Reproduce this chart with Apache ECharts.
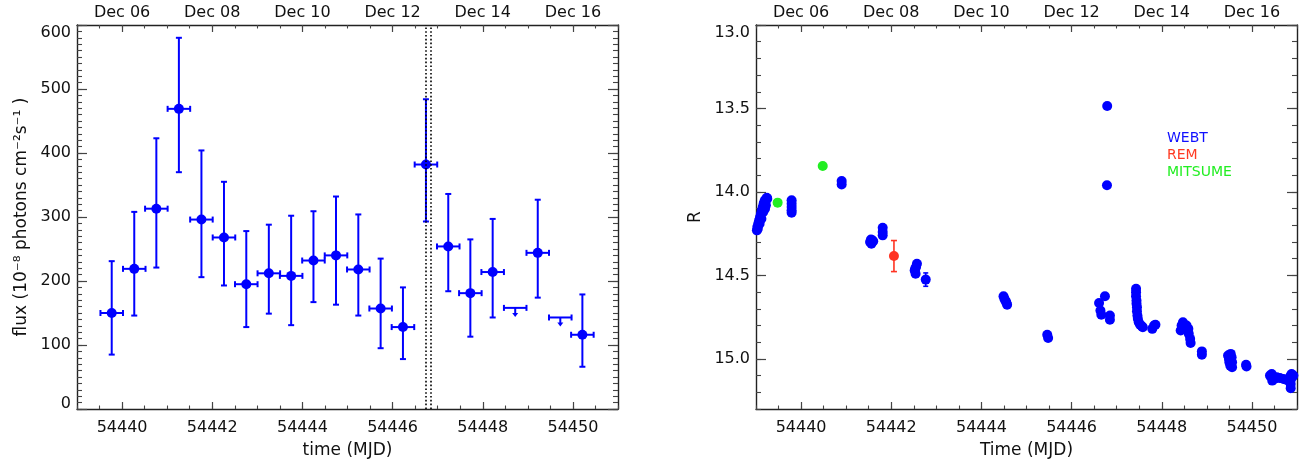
<!DOCTYPE html>
<html><head><meta charset="utf-8">
<script src="https://cdn.jsdelivr.net/npm/echarts@6/dist/echarts.min.js"></script>
<style>html,body{margin:0;padding:0;background:#fff}#c{width:1307px;height:466px}</style>
</head><body><div id="c"></div>
<script>
// ---------------- data ----------------
const mjdTicks = [54440, 54442, 54444, 54446, 54448, 54450];
const dateTickLabels = ['Dec 06', 'Dec 08', 'Dec 10', 'Dec 12', 'Dec 14', 'Dec 16'];
const magTicks = [13.0, 13.5, 14.0, 14.5, 15.0];

// Left panel: gamma-ray flux (10^-8 ph cm^-2 s^-1)
const fluxMJD = [54439.77, 54440.27, 54440.76, 54441.26, 54441.76, 54442.26, 54442.755, 54443.255, 54443.75, 54444.245,
                 54444.745, 54445.24, 54445.735, 54446.23, 54446.74, 54447.235, 54447.725, 54448.22, 54449.22, 54450.21];
const flux    = [150, 219, 313, 469, 296, 268, 195, 212, 208, 232, 240, 218, 157, 128, 382, 254, 181, 214, 244, 116];
const fluxHi  = [231, 308, 423, 580, 404, 355, 278, 288, 302, 309, 332, 304, 235, 190, 484, 336, 265, 297, 327, 179];
const fluxLo  = [ 85, 146, 221, 370, 206, 193, 128, 149, 131, 167, 163, 146,  95,  78, 293, 184, 113, 143, 174,  66];
const binHalfWidth = 0.25;
const ulMJD  = [54448.72, 54449.72];
const ulFlux = [158, 143];
const dottedLinesMJD = [54446.74, 54446.85];

// Right panel: R-band magnitudes
const webtMJD = [
  54439.02, 54439.03, 54439.05, 54439.07, 54439.09, 54439.11, 54439.13, 54439.15, 54439.17, 54439.19, 54439.21, 54439.24, 54439.25, 54439.20, 54439.22,
  54439.04, 54439.08, 54439.12, 54439.16,
  54439.79, 54439.79, 54439.79, 54439.79, 54439.79,
  54440.90, 54440.90,
  54441.53, 54441.58, 54441.56, 54441.60, 54441.55,
  54441.81, 54441.81, 54441.81,
  54442.52, 54442.55, 54442.57, 54442.54, 54442.53,
  54442.765,
  54444.49, 54444.51, 54444.53, 54444.55, 54444.57,
  54445.46, 54445.48,
  54446.61, 54446.64, 54446.66, 54446.74, 54446.85, 54446.85,
  54446.79, 54446.785,
  54447.43, 54447.43, 54447.43, 54447.44, 54447.44, 54447.45, 54447.45, 54447.46, 54447.47, 54447.49, 54447.52, 54447.56, 54447.58,
  54447.79, 54447.83, 54447.86,
  54448.47, 54448.44, 54448.42, 54448.50, 54448.55, 54448.59, 54448.60, 54448.63, 54448.64,
  54448.89, 54448.89,
  54449.47, 54449.49, 54449.50, 54449.53, 54449.55, 54449.56, 54449.56, 54449.52,
  54449.87, 54449.88,
  54450.40, 54450.44, 54450.47, 54450.50, 54450.45, 54450.55, 54450.62, 54450.70, 54450.76, 54450.82, 54450.86, 54450.88, 54450.87, 54450.86, 54450.86, 54450.92
];
const webtR = [
  14.23, 14.21, 14.19, 14.17, 14.15, 14.13, 14.11, 14.09, 14.07, 14.055, 14.045, 14.035, 14.04, 14.10, 14.08,
  14.22, 14.19, 14.16, 14.12,
  14.05, 14.07, 14.09, 14.11, 14.125,
  13.935, 13.955,
  14.30, 14.29, 14.31, 14.295, 14.285,
  14.215, 14.24, 14.26,
  14.47, 14.45, 14.43, 14.49, 14.46,
  14.525,
  14.625, 14.64, 14.65, 14.66, 14.675,
  14.855, 14.875,
  14.665, 14.71, 14.735, 14.625, 14.74, 14.765,
  13.485, 13.96,
  14.58, 14.60, 14.625, 14.65, 14.67, 14.69, 14.715, 14.74, 14.76, 14.78, 14.795, 14.805, 14.81,
  14.82, 14.80, 14.795,
  14.78, 14.80, 14.83, 14.82, 14.80, 14.82, 14.85, 14.88, 14.905,
  14.955, 14.975,
  14.98, 15.00, 15.02, 14.97, 14.99, 15.02, 15.05, 15.04,
  15.035, 15.045,
  15.10, 15.09, 15.11, 15.12, 15.13, 15.11, 15.115, 15.12, 15.125, 15.13, 15.10, 15.09, 15.12, 15.15, 15.175, 15.10
];
const webtErrMJD = [54442.765];
const webtErrR   = [14.525];
const webtErr    = [0.04];
const remMJD = [54442.06];
const remR   = [14.384];
const remErr = [0.093];
const mitsumeMJD = [54439.48, 54440.48];
const mitsumeR   = [14.064, 13.845];

// ---------------- styling ----------------
const BLUE = '#0000ff', RED = '#ff3322', GREEN = '#22ee22';
const FONT = 'DejaVu Sans', TXT = '#111', AXC = '#222', TKC = '#444';
const MJD_MIN = 54439, MJD_MAX = 54451;

function xAxesFor(gi, name) {
  const common = {type: 'value', gridIndex: gi, min: MJD_MIN, max: MJD_MAX, splitLine: {show: false}};
  const lbl = {fontSize: 16, fontFamily: FONT, color: TXT};
  return [
    Object.assign({}, common, {
      position: 'bottom', name: name, nameLocation: 'middle', nameGap: 33,
      nameTextStyle: {fontSize: 17, fontFamily: FONT, color: TXT},
      axisLine: {show: true, onZero: false, lineStyle: {color: AXC, width: 1.4}},
      axisTick: {show: true, inside: true, length: 7, customValues: mjdTicks, lineStyle: {color: TKC, width: 1.2}},
      axisLabel: Object.assign({show: true, customValues: mjdTicks, margin: 11, formatter: v => String(v)}, lbl)
    }),
    Object.assign({}, common, {
      position: 'bottom', interval: 0.5,
      axisLine: {show: false, onZero: false},
      axisTick: {show: true, inside: true, length: 3.5, lineStyle: {color: TKC, width: 1.1}},
      axisLabel: {show: false}
    }),
    Object.assign({}, common, {
      position: 'top',
      axisLine: {show: true, onZero: false, lineStyle: {color: AXC, width: 1.4}},
      axisTick: {show: true, inside: true, length: 7, customValues: mjdTicks, lineStyle: {color: TKC, width: 1.2}},
      axisLabel: Object.assign({show: true, customValues: mjdTicks, margin: 4,
        formatter: v => dateTickLabels[mjdTicks.indexOf(Math.round(v))] || ''}, lbl)
    }),
    Object.assign({}, common, {
      position: 'top', interval: 0.5,
      axisLine: {show: false, onZero: false},
      axisTick: {show: true, inside: true, length: 3.5, lineStyle: {color: TKC, width: 1.1}},
      axisLabel: {show: false}
    })
  ];
}

function yAxesFor(gi, cfg) {
  const common = {type: 'value', gridIndex: gi, min: cfg.min, max: cfg.max, inverse: !!cfg.inverse, splitLine: {show: false}};
  const majTick = cfg.majorValues ? {customValues: cfg.majorValues} : {};
  const majInt = cfg.majorValues ? {} : {interval: cfg.majorInterval};
  return [
    Object.assign({}, common, majInt, {
      position: 'left', name: cfg.name, nameLocation: 'middle', nameGap: cfg.nameGap,
      nameTextStyle: {fontSize: 17, fontFamily: FONT, color: TXT},
      axisLine: {show: true, onZero: false, lineStyle: {color: AXC, width: 1.4}},
      axisTick: Object.assign({show: true, inside: true, length: 10, lineStyle: {color: TKC, width: 1.2}}, majTick),
      axisLabel: Object.assign({show: true, margin: 6, fontSize: 16, fontFamily: FONT, color: TXT,
        formatter: cfg.fmt}, majTick, cfg.labelExtra || {})
    }),
    Object.assign({}, common, {
      position: 'left', interval: cfg.minorInterval,
      axisLine: {show: false, onZero: false},
      axisTick: {show: true, inside: true, length: 5, lineStyle: {color: TKC, width: 1.1}},
      axisLabel: {show: false}
    }),
    Object.assign({}, common, majInt, {
      position: 'right',
      axisLine: {show: true, onZero: false, lineStyle: {color: AXC, width: 1.4}},
      axisTick: Object.assign({show: true, inside: true, length: 10, lineStyle: {color: TKC, width: 1.2}}, majTick),
      axisLabel: {show: false}
    }),
    Object.assign({}, common, {
      position: 'right', interval: cfg.minorInterval,
      axisLine: {show: false, onZero: false},
      axisTick: {show: true, inside: true, length: 5, lineStyle: {color: TKC, width: 1.1}},
      axisLabel: {show: false}
    })
  ];
}

function errBarRenderer(color, lw, cap, withX) {
  return function (params, api) {
    const t = api.value(0), v = api.value(1), lo = api.value(2), hi = api.value(3), hw = api.value(4);
    const pT = api.coord([t, hi]), pB = api.coord([t, lo]);
    const st = {stroke: color, lineWidth: lw};
    const ch = [
      {type: 'line', shape: {x1: pT[0], y1: pT[1], x2: pB[0], y2: pB[1]}, style: st},
      {type: 'line', shape: {x1: pT[0] - cap, y1: pT[1], x2: pT[0] + cap, y2: pT[1]}, style: st},
      {type: 'line', shape: {x1: pB[0] - cap, y1: pB[1], x2: pB[0] + cap, y2: pB[1]}, style: st}
    ];
    if (withX) {
      const pL = api.coord([t - hw, v]), pR = api.coord([t + hw, v]);
      ch.push({type: 'line', shape: {x1: pL[0], y1: pL[1], x2: pR[0], y2: pR[1]}, style: st});
      ch.push({type: 'line', shape: {x1: pL[0], y1: pL[1] - cap, x2: pL[0], y2: pL[1] + cap}, style: st});
      ch.push({type: 'line', shape: {x1: pR[0], y1: pR[1] - cap, x2: pR[0], y2: pR[1] + cap}, style: st});
    }
    return {type: 'group', children: ch};
  };
}

// build data tables from arrays
const fluxErrData = fluxMJD.map((t, i) => [t, flux[i], fluxLo[i], fluxHi[i], binHalfWidth]);
const fluxPts = fluxMJD.map((t, i) => [t, flux[i]]);
const ulData = ulMJD.map((t, i) => [t, ulFlux[i], binHalfWidth]);
const webtPts = webtMJD.map((t, i) => [t, webtR[i]]);
const webtErrData = webtErrMJD.map((t, i) => [t, webtErrR[i], webtErrR[i] - webtErr[i], webtErrR[i] + webtErr[i], 0]);
const remPts = remMJD.map((t, i) => [t, remR[i]]);
const remErrData = remMJD.map((t, i) => [t, remR[i], remR[i] - remErr[i], remR[i] + remErr[i], 0]);
const mitsumePts = mitsumeMJD.map((t, i) => [t, mitsumeR[i]]);

const chart = echarts.init(document.getElementById('c'), null, {renderer: 'canvas'});
chart.setOption({
  animation: false,
  backgroundColor: '#fff',
  textStyle: {fontFamily: FONT},
  grid: [
    {left: 77, top: 25, width: 541, height: 384},
    {left: 756, top: 25, width: 541, height: 384}
  ],
  xAxis: [].concat(xAxesFor(0, 'time (MJD)'), xAxesFor(1, 'Time (MJD)')),
  yAxis: [].concat(
    yAxesFor(0, {min: 0, max: 600, majorInterval: 100, minorInterval: 10,
      name: 'flux (10\u207B\u2078 photons cm\u207B\u00B2s\u207B\u00B9 )', nameGap: 47,
      fmt: v => (v === 0 ? '{lo|0}' : String(v)),
      labelExtra: {verticalAlignMaxLabel: 'top',
        rich: {lo: {fontSize: 16, fontFamily: FONT, color: TXT, padding: [0, 0, 10, 0]}}}}),
    yAxesFor(1, {min: 13.0, max: 15.3, inverse: true, majorValues: magTicks, minorInterval: 0.1,
      name: 'R', nameGap: 52, fmt: v => v.toFixed(1),
      labelExtra: {verticalAlignMinLabel: 'top'}})
  ),
  legend: {
    orient: 'vertical', left: 1157, top: 126, icon: 'none', itemWidth: 0, itemHeight: 0, itemGap: 3,
    selectedMode: false,
    textStyle: {fontSize: 14, fontFamily: FONT, lineHeight: 14},
    data: [
      {name: 'WEBT', textStyle: {color: '#1010ff'}},
      {name: 'REM', textStyle: {color: '#ff3a22'}},
      {name: 'MITSUME', textStyle: {color: '#22ee22'}}
    ]
  },
  series: [
    {
      name: 'fluxErr', type: 'custom', xAxisIndex: 0, yAxisIndex: 0,
      renderItem: errBarRenderer(BLUE, 2, 3, true), data: fluxErrData,
      encode: {x: [0], y: [1, 2, 3]}, z: 3
    },
    {
      name: 'flux', type: 'scatter', xAxisIndex: 0, yAxisIndex: 0, data: fluxPts,
      symbol: 'circle', symbolSize: 10, itemStyle: {color: BLUE, opacity: 1}, z: 4,
      markLine: {
        silent: true, symbol: ['none', 'none'], label: {show: false},
        lineStyle: {color: '#000', width: 1.6, type: [1.6, 2.2]},
        data: dottedLinesMJD.map(v => ({xAxis: v}))
      }
    },
    {
      name: 'upperLimits', type: 'custom', xAxisIndex: 0, yAxisIndex: 0, data: ulData,
      encode: {x: [0], y: [1]}, z: 3,
      renderItem: function (params, api) {
        const t = api.value(0), v = api.value(1), hw = api.value(2);
        const c = api.coord([t, v]), pL = api.coord([t - hw, v]), pR = api.coord([t + hw, v]);
        const st = {stroke: BLUE, lineWidth: 2};
        return {type: 'group', children: [
          {type: 'line', shape: {x1: pL[0], y1: pL[1], x2: pR[0], y2: pR[1]}, style: st},
          {type: 'line', shape: {x1: pL[0], y1: pL[1] - 3, x2: pL[0], y2: pL[1] + 3}, style: st},
          {type: 'line', shape: {x1: pR[0], y1: pR[1] - 3, x2: pR[0], y2: pR[1] + 3}, style: st},
          {type: 'line', shape: {x1: c[0], y1: c[1], x2: c[0], y2: c[1] + 6}, style: st},
          {type: 'polygon', shape: {points: [[c[0] - 3, c[1] + 5], [c[0] + 3, c[1] + 5], [c[0], c[1] + 9]]}, style: {fill: BLUE}}
        ]};
      }
    },
    {
      name: 'WEBT', type: 'scatter', xAxisIndex: 4, yAxisIndex: 4, data: webtPts, clip: true,
      symbol: 'circle', symbolSize: 10, itemStyle: {color: BLUE, opacity: 1}, z: 3
    },
    {
      name: 'webtErr', type: 'custom', xAxisIndex: 4, yAxisIndex: 4, data: webtErrData,
      renderItem: errBarRenderer(BLUE, 1.6, 2.5, false), encode: {x: [0], y: [1, 2, 3]}, z: 3
    },
    {
      name: 'remErr', type: 'custom', xAxisIndex: 4, yAxisIndex: 4, data: remErrData,
      renderItem: errBarRenderer(RED, 1.6, 3, false), encode: {x: [0], y: [1, 2, 3]}, z: 4
    },
    {
      name: 'REM', type: 'scatter', xAxisIndex: 4, yAxisIndex: 4, data: remPts, clip: true,
      symbol: 'circle', symbolSize: 10, itemStyle: {color: RED, opacity: 1}, z: 4
    },
    {
      name: 'MITSUME', type: 'scatter', xAxisIndex: 4, yAxisIndex: 4, data: mitsumePts, clip: true,
      symbol: 'circle', symbolSize: 10, itemStyle: {color: GREEN, opacity: 1}, z: 4
    }
  ]
});
</script>
</body></html>
